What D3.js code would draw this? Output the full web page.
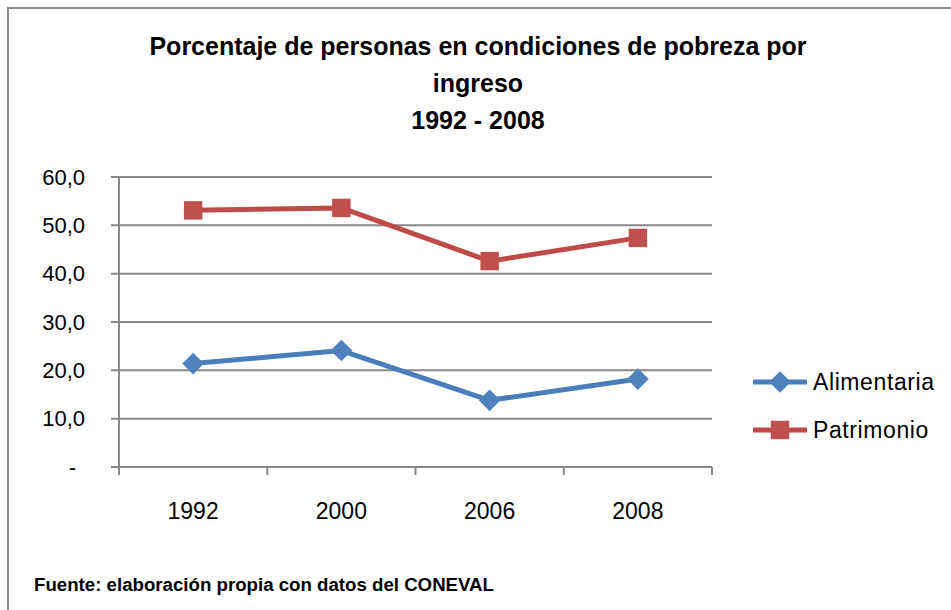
<!DOCTYPE html>
<html>
<head>
<meta charset="utf-8">
<script src="https://cdn.jsdelivr.net/npm/d3@7"></script>
<style>
  body { margin: 0; background: #fff; }
  svg { display: block; }
  text { font-family: "Liberation Sans", Arial, sans-serif; fill: #000; }
</style>
</head>
<body>
<div id="chart"></div>
<script>
// data
const years = ["1992", "2000", "2006", "2008"];
const alimentaria = [21.4, 24.1, 13.8, 18.2];
const patrimonio = [53.1, 53.6, 42.6, 47.4];
const yTicks = [0, 10, 20, 30, 40, 50, 60];
const titleLines = ["Porcentaje de personas en condiciones de pobreza por", "ingreso", "1992 - 2008"];
const source = "Fuente: elaboración propia con datos del CONEVAL";

const W = 951, H = 610;
const plot = { left: 119, right: 712, top: 177, bottom: 467 };

const svg = d3.select("#chart").append("svg")
    .attr("width", W)
    .attr("height", H);

// outer chart border (right and bottom edges fall outside the window)
svg.append("rect")
    .attr("x", 8).attr("y", 8)
    .attr("width", 960).attr("height", 620)
    .attr("fill", "none")
    .attr("stroke", "#888")
    .attr("stroke-width", 2);

const x = d3.scaleBand().domain(years).range([plot.left, plot.right]);
const y = d3.scaleLinear().domain([0, 60]).range([plot.bottom, plot.top]);

// gridlines + y ticks
svg.append("g")
    .selectAll("line")
    .data(yTicks)
    .join("line")
    .attr("x1", plot.left - 8)
    .attr("x2", plot.right)
    .attr("y1", d => y(d))
    .attr("y2", d => y(d))
    .attr("stroke", "#888")
    .attr("stroke-width", 2);

svg.append("g")
    .selectAll("text")
    .data(yTicks)
    .join("text")
    .attr("x", d => d === 0 ? 76 : 85)
    .attr("y", d => y(d))
    .attr("dy", "0.35em")
    .attr("text-anchor", "end")
    .style("font-size", "22px")
    .text(d => d === 0 ? "-" : d.toFixed(1).replace(".", ","));

// y axis line
svg.append("line")
    .attr("x1", plot.left).attr("x2", plot.left)
    .attr("y1", plot.top).attr("y2", plot.bottom + 8)
    .attr("stroke", "#888")
    .attr("stroke-width", 2);

// x axis ticks at band edges
const edges = years.map(d => x(d)).concat([plot.right]);
svg.append("g")
    .selectAll("line")
    .data(edges)
    .join("line")
    .attr("x1", d => d).attr("x2", d => d)
    .attr("y1", plot.bottom).attr("y2", plot.bottom + 8)
    .attr("stroke", "#888")
    .attr("stroke-width", 2);

svg.append("g")
    .selectAll("text")
    .data(years)
    .join("text")
    .attr("x", d => x(d) + x.bandwidth() / 2)
    .attr("y", 519)
    .attr("text-anchor", "middle")
    .style("font-size", "23px")
    .text(d => d);

// series
const series = [
    { name: "Alimentaria", values: alimentaria, line: "#4A7EBB", fill: "#4F81BD", shape: d3.symbolDiamond2, size: 300 },
    { name: "Patrimonio", values: patrimonio, line: "#BE4B48", fill: "#C0504D", shape: d3.symbolSquare, size: 340 }
];

const line = d3.line()
    .x((d, i) => x(years[i]) + x.bandwidth() / 2)
    .y(d => y(d));

series.forEach(s => {
    svg.append("path")
        .datum(s.values)
        .attr("d", line)
        .attr("fill", "none")
        .attr("stroke", s.line)
        .attr("stroke-width", 5)
        .attr("stroke-linejoin", "round");

    svg.append("g")
        .selectAll("path")
        .data(s.values)
        .join("path")
        .attr("transform", (d, i) => `translate(${x(years[i]) + x.bandwidth() / 2},${y(d)})`)
        .attr("d", d3.symbol().type(s.shape).size(s.size))
        .attr("fill", s.fill);
});

// legend
const legend = svg.append("g");
series.forEach((s, i) => {
    const ly = 382 + i * 48;
    legend.append("line")
        .attr("x1", 753).attr("x2", 807)
        .attr("y1", ly).attr("y2", ly)
        .attr("stroke", s.line)
        .attr("stroke-width", 5);
    legend.append("path")
        .attr("transform", `translate(780,${ly})`)
        .attr("d", d3.symbol().type(s.shape).size(s.size))
        .attr("fill", s.fill);
    legend.append("text")
        .attr("x", 813)
        .attr("y", ly)
        .attr("dy", "0.35em")
        .style("font-size", "23px")
        .style("letter-spacing", "0.6px")
        .text(s.name);
});

// title
svg.append("g")
    .selectAll("text")
    .data(titleLines)
    .join("text")
    .attr("x", 478)
    .attr("y", (d, i) => 55 + i * 37)
    .attr("text-anchor", "middle")
    .style("font-size", "25px")
    .style("font-weight", "bold")
    .text(d => d);

// source note
svg.append("text")
    .attr("x", 34)
    .attr("y", 591)
    .attr("textLength", 460)
    .attr("lengthAdjust", "spacingAndGlyphs")
    .style("font-size", "18px")
    .style("font-weight", "bold")
    .text(source);
</script>
</body>
</html>
